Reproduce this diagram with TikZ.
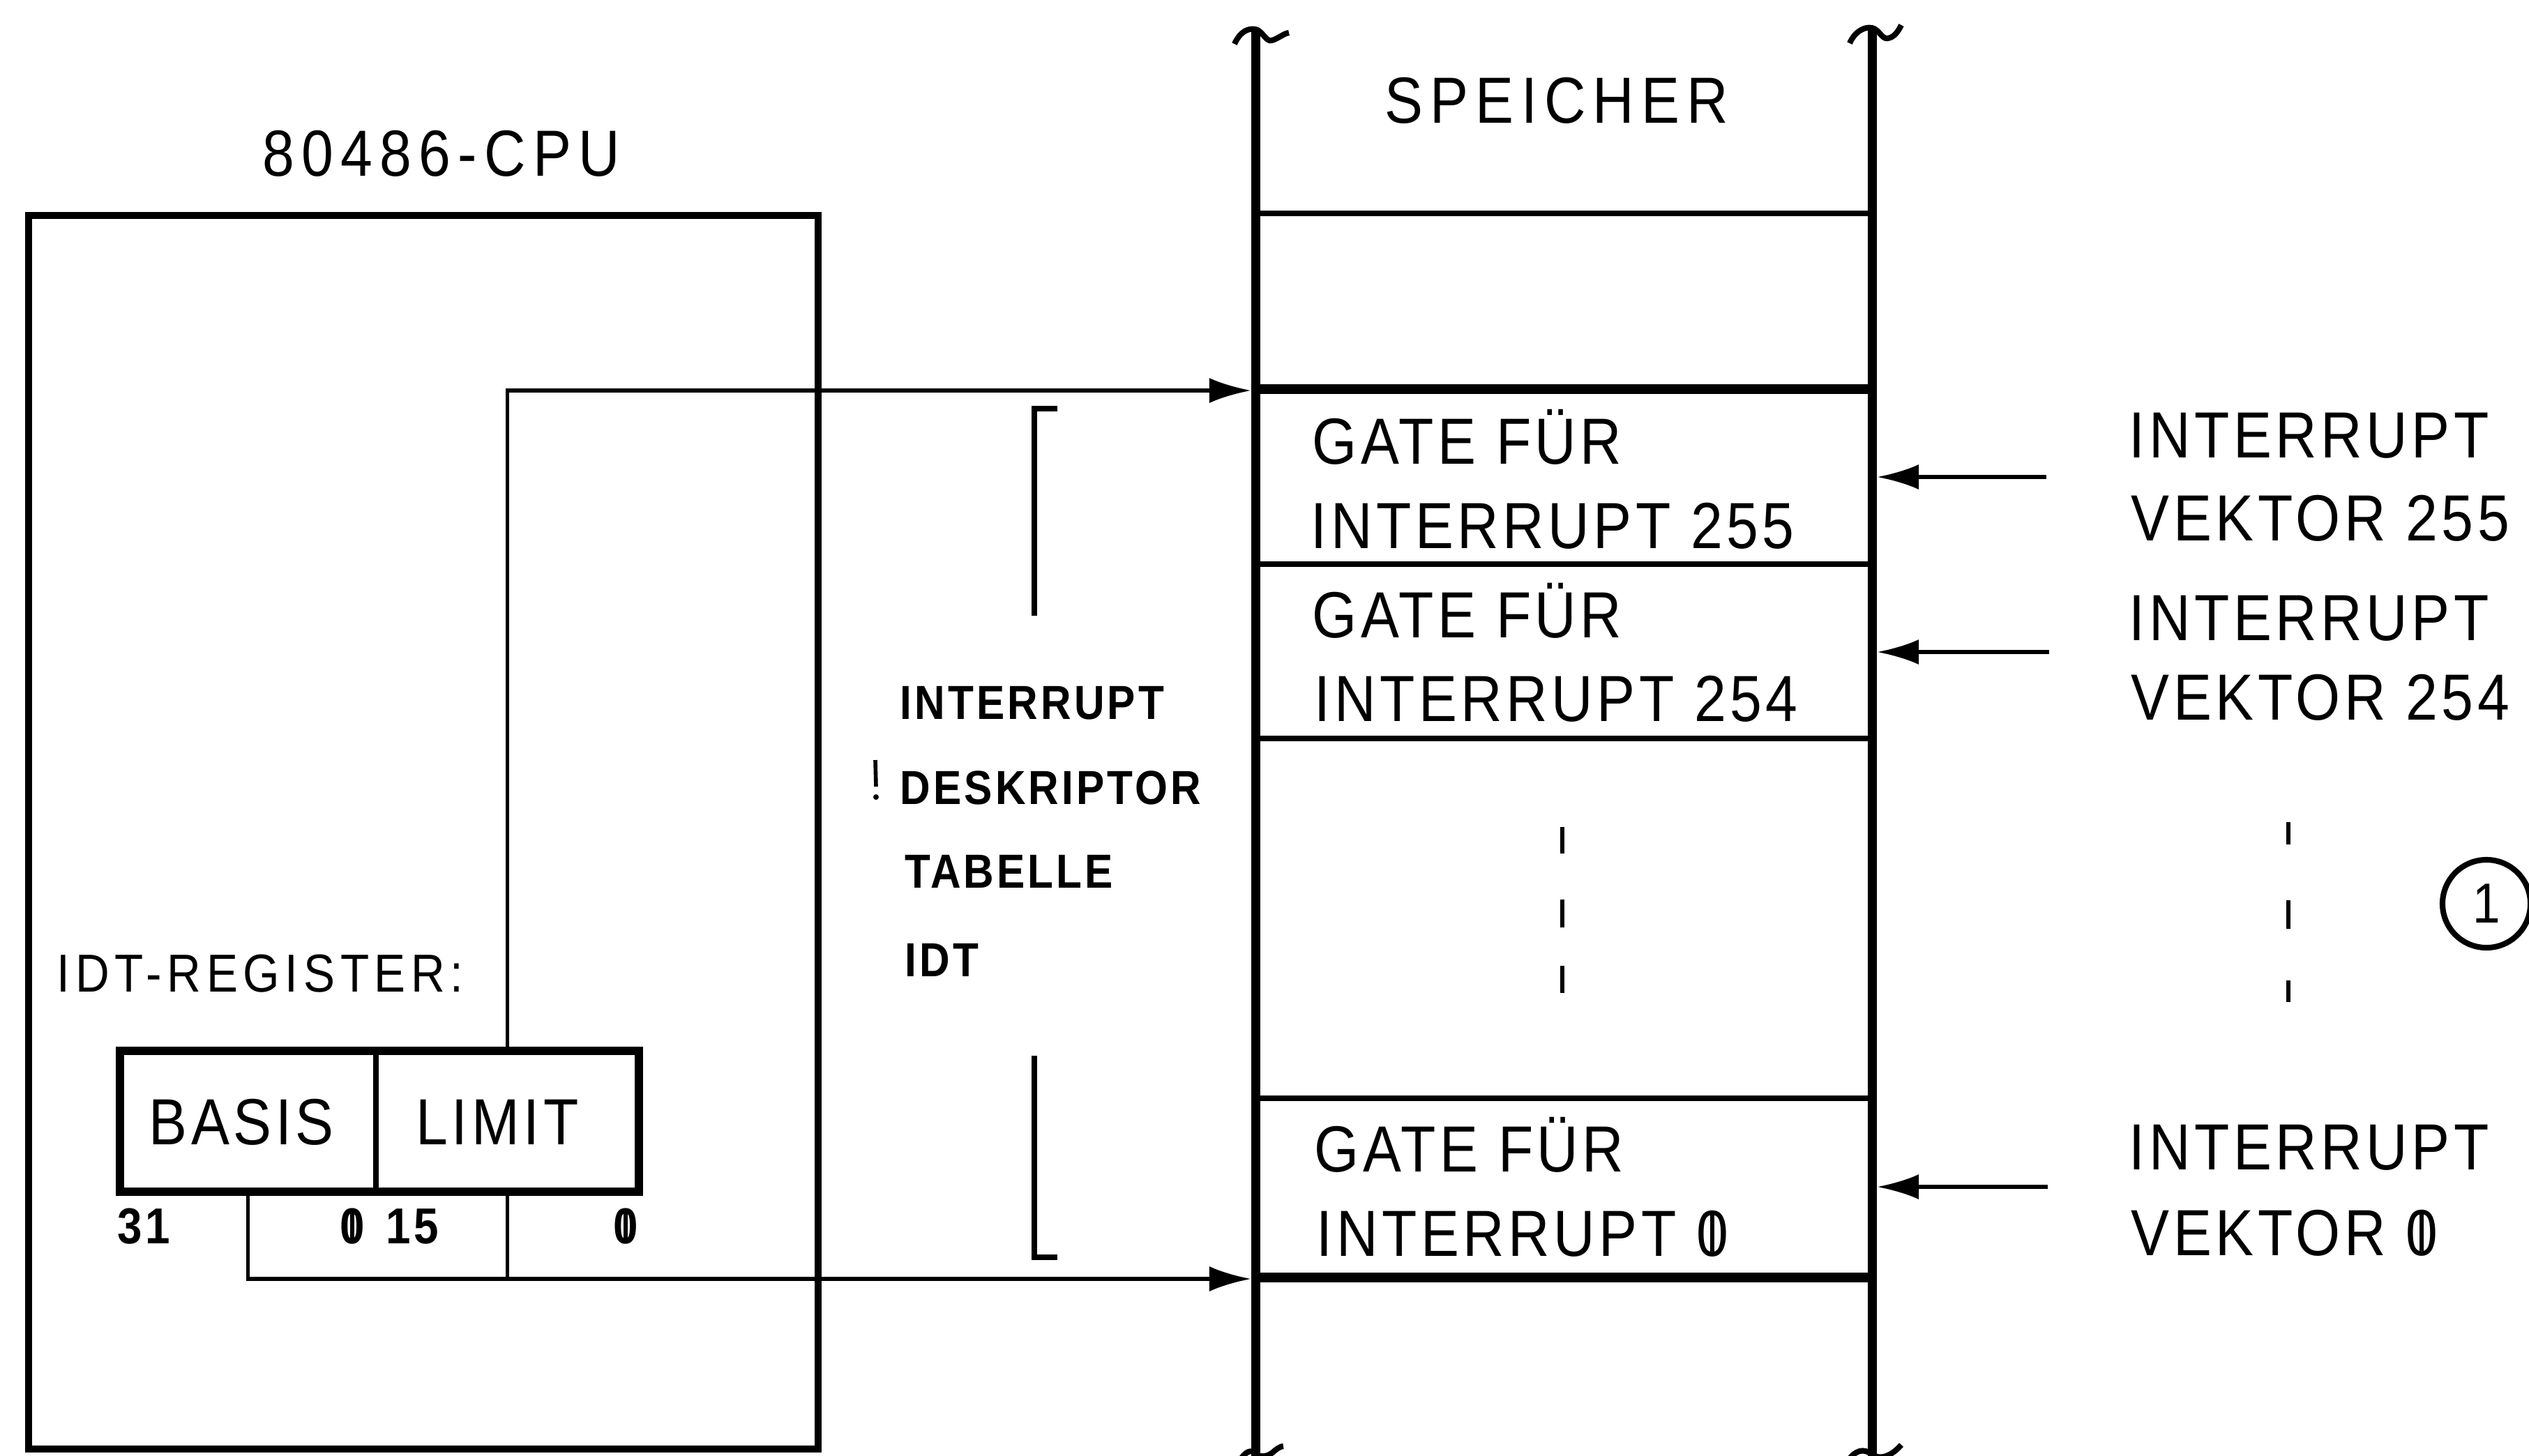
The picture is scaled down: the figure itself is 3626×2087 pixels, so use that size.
\documentclass[tikz,border=0pt]{standalone}
\usepackage{fontspec}
\setmainfont{Liberation Sans}[FakeStretch=0.88,LetterSpace=6]
\usetikzlibrary{arrows.meta}
\newcommand\zb{\ooalign{0\cr\hidewidth\rule[0.06em]{0.07em}{0.6em}\hidewidth\cr}}
\tikzset{
  lbl/.style={font=\fontsize{26.6}{30}\selectfont, inner sep=0pt},
  lblwide/.style={font=\fontsize{26.6}{30}\selectfont\addfontfeatures{LetterSpace=11}, inner sep=0pt},
  lblsm/.style={font=\fontsize{19.5}{23}\selectfont\bfseries, inner sep=0pt},
  lblreg/.style={font=\fontsize{21.8}{25}\selectfont\addfontfeatures{LetterSpace=10}, inner sep=0pt},
  lblbit/.style={font=\fontsize{20.6}{24}\selectfont\bfseries, inner sep=0pt},
  memline/.style={line width=3.7pt},
  septhick/.style={line width=4pt},
  septhin/.style={line width=2.3pt},
  boxline/.style={line width=2.6pt},
  regline/.style={line width=3.4pt},
  conn/.style={line width=1.7pt},
  arrowin/.style={-{Latex[length=0.6cm,width=0.36cm]}},
  dashln/.style={line width=1.5pt},
  tildeln/.style={line width=2.3pt},
}
\begin{document}
\begin{tikzpicture}[x=0.01cm,y=-0.01cm]
\useasboundingbox (0,0) rectangle (3626,2087);
\clip (0,0) rectangle (3626,2087);
\fill[white] (0,0) rectangle (3626,2087);

% ---------------- CPU ----------------
\node[lblwide,anchor=base] (cputitle) at (633,252) {80486-CPU};
\draw[boxline] (41,309) rectangle (1173,2078);
\node[lblreg,anchor=base west] (idtreg) at (81,1422) {IDT-REGISTER:};

\node[minimum width=3.67cm,minimum height=2.02cm,inner sep=0pt] (basis) at (355.5,1608) {};
\node[minimum width=3.77cm,minimum height=2.02cm,inner sep=0pt] (limit) at (727.5,1608) {};
\node[lbl] (basistxt) at (346,1609) {BASIS};
\node[lbl] (limittxt) at (713,1609) {LIMIT};
\draw[regline] (172,1507) rectangle (916,1709);
\draw[septhin] (539,1507) -- (539,1709);

\node[lblbit,anchor=base] (b31) at (206,1783) {31};
\node[lblbit,anchor=base] (b0a) at (505,1783) {\zb};
\node[lblbit,anchor=base] (b15) at (591,1783) {15};
\node[lblbit,anchor=base] (b0b) at (897,1783) {\zb};

% ---------------- memory ----------------
\draw[memline] (1800,42) -- (1800,2095);
\draw[memline] (2684,40) -- (2684,2095);
\draw[tildeln] (1770,63) .. controls (1778,45) and (1790,40) .. (1800,42)
  .. controls (1810,44) and (1815,60) .. (1823,58)
  .. controls (1832,56) and (1840,48) .. (1848,47);
\draw[tildeln] (2652,62) .. controls (2660,44) and (2674,38) .. (2684,40)
  .. controls (2694,42) and (2698,56) .. (2706,55)
  .. controls (2716,54) and (2722,44) .. (2726,36);
\draw[tildeln] (1778,2094) .. controls (1785,2082) and (1794,2078) .. (1800,2084)
  .. controls (1808,2092) and (1820,2088) .. (1828,2080)
  .. controls (1833,2076) and (1837,2074) .. (1840,2074);
\draw[tildeln] (2650,2094) .. controls (2660,2080) and (2672,2076) .. (2684,2086)
  .. controls (2696,2094) and (2712,2088) .. (2726,2072);

\node[lblwide,anchor=base] (speicher) at (2232,176) {SPEICHER};

\draw[septhin] (1800,306) -- (2684,306);
\draw[septhick] (1800,558) -- (2684,558);
\draw[septhin] (1800,809) -- (2684,809);
\draw[septhin] (1800,1059) -- (2684,1059);
\draw[septhin] (1800,1575) -- (2684,1575);
\draw[septhick] (1800,1832) -- (2684,1832);

\node[lbl,anchor=base west] (g255a) at (1881,665) {GATE FÜR};
\node[lbl,anchor=base west] (g255b) at (1879,786) {INTERRUPT 255};
\node[lbl,anchor=base west] (g254a) at (1881,914) {GATE FÜR};
\node[lbl,anchor=base west] (g254b) at (1884,1034) {INTERRUPT 254};
\node[lbl,anchor=base west] (g0a) at (1884,1680) {GATE FÜR};
\node[lbl,anchor=base west] (g0b) at (1887,1801) {INTERRUPT \zb};

\draw[dashln] (2240,1186) -- (2240,1224);
\draw[dashln] (2240,1290) -- (2240,1330);
\draw[dashln] (2240,1385) -- (2240,1424);

% ---------------- IDT label ----------------
\draw[septhin] (1516,586) -- (1483,586) -- (1483,883);
\draw[septhin] (1483,1514) -- (1483,1803) -- (1516,1803);
\node[lblsm,anchor=base west] (idt1) at (1290,1031) {INTERRUPT};
\node[lblsm,anchor=base west] (idt2) at (1290,1153) {DESKRIPTOR};
\node[lblsm,anchor=base west] (idt3) at (1297,1273) {TABELLE};
\node[lblsm,anchor=base west] (idt4) at (1297,1400) {IDT};
\draw[line width=1.6pt] (1255,1090) -- (1256,1128);
\fill (1256,1143) circle (4);

% ---------------- interrupt vectors ----------------
\node[lbl,anchor=base west] (v255a) at (3052,656) {INTERRUPT};
\node[lbl,anchor=base west] (v255b) at (3055,775) {VEKTOR 255};
\node[lbl,anchor=base west] (v254a) at (3052,918) {INTERRUPT};
\node[lbl,anchor=base west] (v254b) at (3055,1032) {VEKTOR 254};
\node[lbl,anchor=base west] (v0a) at (3052,1677) {INTERRUPT};
\node[lbl,anchor=base west] (v0b) at (3055,1800) {VEKTOR \zb};

\draw[dashln] (3281,1179) -- (3281,1211);
\draw[dashln] (3281,1291) -- (3281,1332);
\draw[dashln] (3281,1406) -- (3281,1437);

\node[draw,circle,line width=2.3pt,minimum size=1.26cm,inner sep=0pt,
  font=\fontsize{23}{26}\selectfont] (one) at (3565,1296) {1};

% ---------------- connectors ----------------
\coordinate (idttop) at (1794,560);
\coordinate (idtbot) at (1794,1834);
\draw[conn,arrowin] (limit.north) |- (idttop);
\draw[conn,arrowin] (basis.south) |- (idtbot);
\draw[conn] (limit.south) -- (limit.south |- idtbot);

\coordinate (s255) at (2934,684);
\coordinate (t255) at (2691,684);
\coordinate (s254) at (2938,935);
\coordinate (t254) at (2691,935);
\coordinate (s0) at (2936,1702);
\coordinate (t0) at (2691,1702);
\draw[conn,arrowin] (s255) -- (t255);
\draw[conn,arrowin] (s254) -- (t254);
\draw[conn,arrowin] (s0) -- (t0);
\end{tikzpicture}
\end{document}
